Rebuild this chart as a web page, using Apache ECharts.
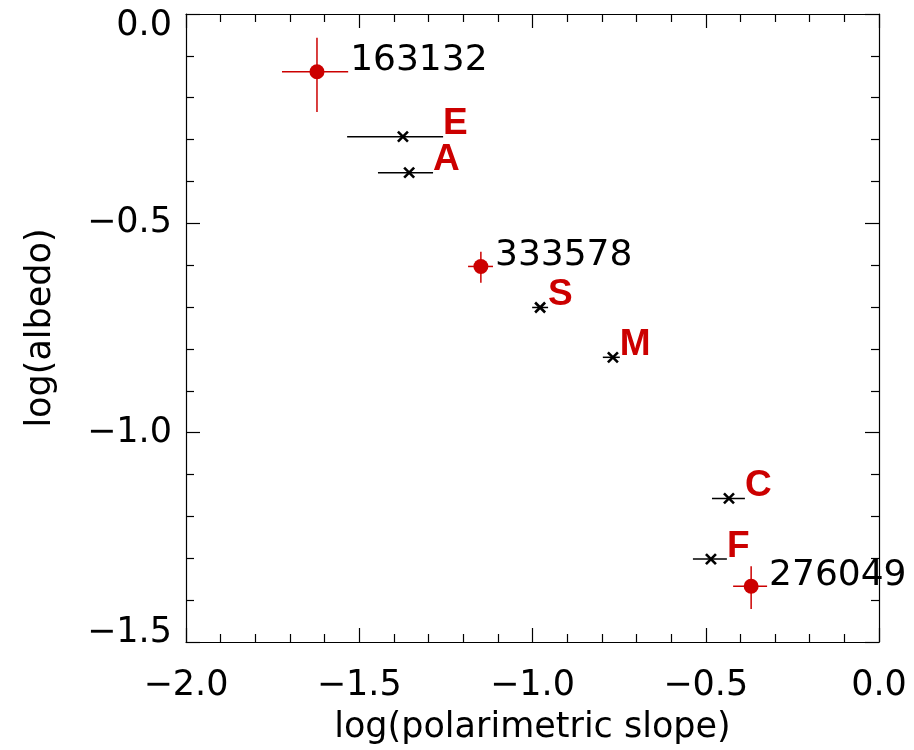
<!DOCTYPE html>
<html>
<head>
<meta charset="utf-8">
<script src="https://cdn.jsdelivr.net/npm/echarts@6/dist/echarts.min.js"></script>
<style>
  html, body { margin: 0; padding: 0; background: #fff; }
  #chart { width: 914px; height: 750px; }
</style>
</head>
<body>
<div id="chart"></div>
<script>
// objects measured with polarimetry (red dots + error bars)
const objNames = ['163132', '333578', '276049'];
const objX = [-1.622, -1.149, -0.369];
const objY = [-0.138, -0.603, -1.367];
const objXLow = [-1.723, -1.186, -0.421];
const objXHigh = [-1.532, -1.114, -0.323];
const objYLow = [-0.234, -0.642, -1.421];
const objYHigh = [-0.057, -0.568, -1.319];

// taxonomic class averages (black crosses)
const typeNames = ['E', 'A', 'S', 'M', 'C', 'F'];
const typeX = [-1.374, -1.356, -0.978, -0.768, -0.433, -0.485];
const typeY = [-0.293, -0.379, -0.701, -0.820, -1.157, -1.302];
const typeXLow = [-1.535, -1.446, -1.001, -0.797, -0.482, -0.537];
const typeXHigh = [-1.258, -1.287, -0.955, -0.748, -0.387, -0.439];

const xTicks = [-2.0, -1.5, -1.0, -0.5, 0.0];
const yTicks = [-1.5, -1.0, -0.5, 0.0];

const RED = '#cc0000';
const FONT = '"DejaVu Sans ExtraLight", "DejaVu Sans", sans-serif';
const fmt = v => v.toFixed(1).replace('-', '\u2212');

const chart = echarts.init(document.getElementById('chart'));

function axisBase() {
  return {
    type: 'value',
    splitLine: { show: false },
    axisLine: { show: true, onZero: false, lineStyle: { color: '#000', width: 1.2 } },
    axisTick: { show: true, inside: true, length: 14, lineStyle: { color: '#000', width: 1.2 } },
    minorTick: { show: true, splitNumber: 5, length: 8, lineStyle: { color: '#000', width: 1.2 } },
    minorSplitLine: { show: false }
  };
}

const xBottom = Object.assign(axisBase(), {
  min: xTicks[0], max: xTicks[xTicks.length - 1], interval: 0.5,
  position: 'bottom',
  name: 'log(polarimetric slope)',
  nameLocation: 'middle', nameGap: 68,
  nameTextStyle: { color: '#000', fontSize: 35, fontFamily: FONT },
  axisLabel: { color: '#000', fontSize: 35, fontFamily: FONT, margin: 26, formatter: fmt }
});
const xTop = Object.assign(axisBase(), {
  min: xTicks[0], max: xTicks[xTicks.length - 1], interval: 0.5,
  position: 'top', axisLabel: { show: false }
});
const yLeft = Object.assign(axisBase(), {
  min: yTicks[0], max: yTicks[yTicks.length - 1], interval: 0.5,
  position: 'left',
  name: 'log(albedo)',
  nameLocation: 'middle', nameGap: 128,
  nameTextStyle: { color: '#000', fontSize: 35, fontFamily: FONT },
  axisLabel: {
    color: '#000', fontSize: 35, fontFamily: FONT, margin: 14,
    formatter: v => {
      if (v === yTicks[yTicks.length - 1]) return '{top|' + fmt(v) + '}';
      if (v === yTicks[0]) return '{bot|' + fmt(v) + '}';
      return fmt(v);
    },
    rich: {
      top: { fontSize: 35, fontFamily: FONT, color: '#000', padding: [24, 0, 0, 0] },
      bot: { fontSize: 35, fontFamily: FONT, color: '#000', padding: [0, 0, 18, 0] }
    }
  }
});
const yRight = Object.assign(axisBase(), {
  min: yTicks[0], max: yTicks[yTicks.length - 1], interval: 0.5,
  position: 'right', axisLabel: { show: false }
});

function line(p1, p2, color, w) {
  return {
    type: 'line',
    shape: { x1: p1[0], y1: p1[1], x2: p2[0], y2: p2[1] },
    style: { stroke: color, lineWidth: w }
  };
}

function renderObj(params, api) {
  const i = params.dataIndex;
  const c = api.coord([api.value(0), api.value(1)]);
  const l = api.coord([api.value(2), api.value(1)]);
  const r = api.coord([api.value(3), api.value(1)]);
  const lo = api.coord([api.value(0), api.value(4)]);
  const hi = api.coord([api.value(0), api.value(5)]);
  return {
    type: 'group',
    children: [
      line(l, r, RED, 1.5),
      line(lo, hi, RED, 1.5),
      { type: 'circle', shape: { cx: c[0], cy: c[1], r: 7.5 }, style: { fill: RED } },
      {
        type: 'text',
        style: {
          text: objNames[i], x: r[0] + 2, y: c[1] + 7,
          fill: '#000', fontSize: 36, fontFamily: FONT,
          align: 'left', verticalAlign: 'bottom', textAlign: 'left', textVerticalAlign: 'bottom'
        }
      }
    ]
  };
}

function renderType(params, api) {
  const i = params.dataIndex;
  const c = api.coord([api.value(0), api.value(1)]);
  const l = api.coord([api.value(2), api.value(1)]);
  const r = api.coord([api.value(3), api.value(1)]);
  const s = 5;
  return {
    type: 'group',
    children: [
      line(l, r, '#000', 1.5),
      line([c[0] - s, c[1] - s], [c[0] + s, c[1] + s], '#000', 2.6),
      line([c[0] - s, c[1] + s], [c[0] + s, c[1] - s], '#000', 2.6),
      {
        type: 'text',
        style: {
          text: typeNames[i], x: r[0], y: c[1] + 6,
          fill: RED, fontSize: 37, fontWeight: 'bold',
          fontFamily: '"Liberation Sans Narrow", "Liberation Sans", sans-serif',
          align: 'left', verticalAlign: 'bottom', textAlign: 'left', textVerticalAlign: 'bottom'
        }
      }
    ]
  };
}

const option = {
  backgroundColor: '#fff',
  animation: false,
  grid: { left: 186, right: 35, top: 14, bottom: 107 },
  xAxis: [xBottom, xTop],
  yAxis: [yLeft, yRight],
  series: [
    {
      type: 'custom',
      clip: false,
      renderItem: renderType,
      encode: { x: [0, 2, 3], y: 1 },
      data: typeX.map((x, i) => [x, typeY[i], typeXLow[i], typeXHigh[i]])
    },
    {
      type: 'custom',
      clip: false,
      renderItem: renderObj,
      encode: { x: [0, 2, 3], y: [1, 4, 5] },
      data: objX.map((x, i) => [x, objY[i], objXLow[i], objXHigh[i], objYLow[i], objYHigh[i]])
    }
  ]
};

chart.setOption(option);
</script>
</body>
</html>
